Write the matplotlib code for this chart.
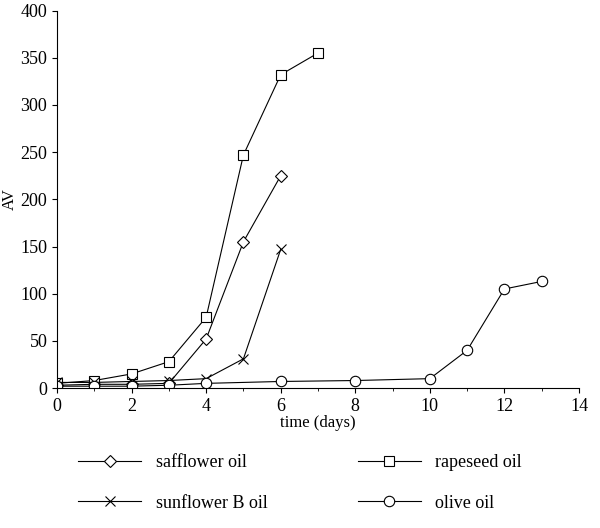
import matplotlib.pyplot as plt

plt.rcParams['font.family'] = ['Liberation Serif', 'DejaVu Serif']

saff_x = [0, 1, 2, 3, 4, 5, 6]
saff_y = [3, 4, 4, 5, 52, 155, 225]
rape_x = [0, 1, 2, 3, 4, 5, 6, 7]
rape_y = [5, 8, 15, 28, 75, 247, 332, 355]
sunb_x = [0, 1, 2, 3, 4, 5, 6]
sunb_y = [6, 6, 7, 8, 10, 31, 147]
olive_x = [0, 1, 2, 3, 4, 6, 8, 10, 11, 12, 13]
olive_y = [2, 2, 2, 3, 5, 7, 8, 10, 40, 105, 113]

fig = plt.figure(figsize=(6, 5.28), dpi=100)
ax = fig.add_axes([0.095, 0.265, 0.87, 0.715])
kw = dict(color='black', linewidth=0.8, markerfacecolor='white', markeredgewidth=0.8)
l1, = ax.plot(saff_x, saff_y, marker='D', markersize=6, label='safflower oil', **kw)
l2, = ax.plot(rape_x, rape_y, marker='s', markersize=7.5, label='rapeseed oil', **kw)
l3, = ax.plot(sunb_x, sunb_y, marker='x', markersize=7, label='sunflower B oil', **kw)
l4, = ax.plot(olive_x, olive_y, marker='o', markersize=7.5, label='olive oil', **kw)

ax.set_xlim(0, 14)
ax.set_ylim(0, 400)
ax.set_xticks(range(0, 15, 2))
ax.set_xticks(range(1, 15, 2), minor=True)
ax.set_yticks(range(0, 401, 50))
ax.spines['top'].set_visible(False)
ax.spines['right'].set_visible(False)
ax.tick_params(labelsize=13)
ax.set_xlabel('time (days)', fontsize=12, labelpad=0)
ax.set_ylabel('AV', fontsize=12, labelpad=2)
fig.legend([l1, l3, l2, l4], [l.get_label() for l in [l1, l3, l2, l4]],
           loc='lower center', ncol=2, frameon=False, fontsize=13,
           bbox_to_anchor=(0.5, 0.0), columnspacing=5, handlelength=3.5,
           labelspacing=1.3)
fig.savefig('out.png')
